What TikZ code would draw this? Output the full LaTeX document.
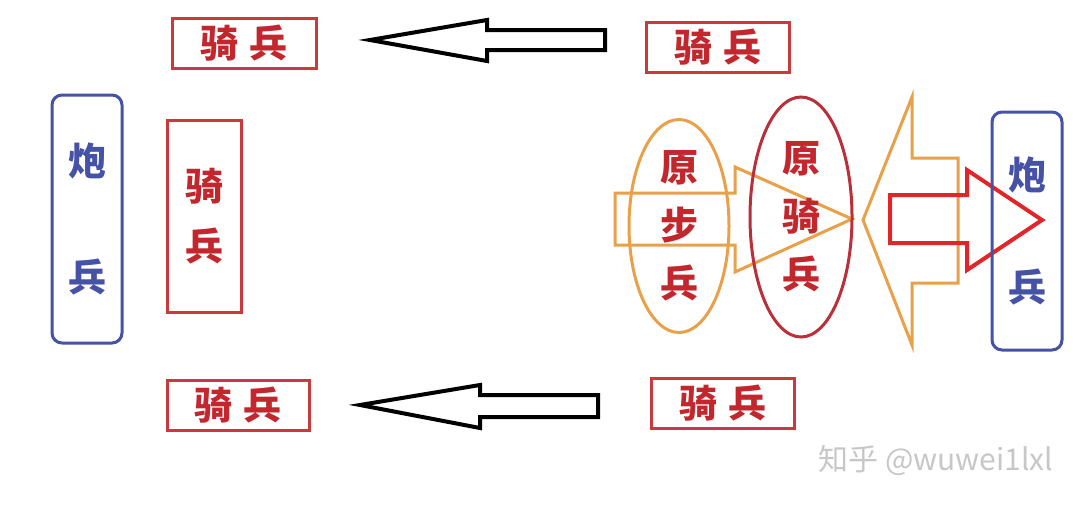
\documentclass[tikz,border=0pt]{standalone}
\usepackage{fontspec}
\newfontfamily\cjk{Noto Sans CJK SC}
\usepackage{xcolor}
\definecolor{BoxRed}{HTML}{C93A3E}
\definecolor{TextRed}{HTML}{C2272D}
\definecolor{ArtBlue}{HTML}{4652A6}
\definecolor{FootOrange}{HTML}{E9A04A}
\definecolor{OvalRed}{HTML}{B9303A}
\definecolor{PushRed}{HTML}{E0262A}
\usetikzlibrary{shapes.geometric}
\tikzset{
  cavbox/.style={
    draw=BoxRed,
    line width=1.5pt,
    text=TextRed,
    align=center,
    font=\cjk\bfseries\fontsize{19}{30}\selectfont,
    inner sep=0pt
  },
  artbox/.style={
    draw=ArtBlue,
    line width=1.5pt,
    rounded corners=5pt,
    text=ArtBlue,
    align=center,
    font=\cjk\bfseries\fontsize{19}{58}\selectfont,
    inner sep=0pt
  },
  oval/.style={
    ellipse,
    line width=1.5pt,
    text=TextRed,
    align=center,
    font=\cjk\bfseries\fontsize{19}{29}\selectfont,
    inner sep=0pt
  },
  movearrow/.style={
    draw=black,
    line width=2pt
  },
  footarrow/.style={
    draw=FootOrange,
    line width=1.5pt
  }
}

\begin{document}
\begin{tikzpicture}[x=0.5pt,y=-0.5pt]
  \useasboundingbox[fill=white] (0,0) rectangle (1080,504);
  % left side
  \node[cavbox, minimum width=72pt, minimum height=25pt] (cavTL) at (244,43) {骑\hspace{6pt}兵};
  \node[artbox, minimum width=35pt, minimum height=124pt] (artL) at (87,219) {炮\\兵};
  \node[cavbox, minimum width=37pt, minimum height=96pt] (cavML) at (204,216) {骑\\兵};
  \node[cavbox, minimum width=71pt, minimum height=25pt] (cavBL) at (238,405) {骑\hspace{6pt}兵};
  % right side
  \node[cavbox, minimum width=71.5pt, minimum height=25pt] (cavTR) at (718,47) {骑\hspace{6pt}兵};
  \node[cavbox, minimum width=71.5pt, minimum height=25pt] (cavBR) at (723,403) {骑\hspace{6pt}兵};
  % flank moves
  \draw[movearrow] (370,40) -- (487,20) -- (487,30) -- (605,30) -- (605,50) -- (487,50) -- (487,61) -- cycle;
  \draw[movearrow] (360,405) -- (480,385) -- (480,395) -- (598,395) -- (598,417) -- (480,417) -- (480,428) -- cycle;
  % centre push
  \node[oval, draw=FootOrange, minimum width=50pt, minimum height=102.5pt] (foot) at (679,226) {原\\步\\兵};
  \draw[footarrow] (615,193) -- (735,193) -- (735,167) -- (852,219) -- (735,272) -- (735,245) -- (615,245) -- cycle;
  \node[oval, draw=OvalRed, minimum width=51pt, minimum height=120pt] (oldcav) at (801,217) {原\\骑\\兵};
  \draw[footarrow] (863,220) -- (912,97) -- (912,158) -- (958,158) -- (958,283) -- (912,283) -- (912,345) -- cycle;
  \draw[draw=PushRed, line width=2pt] (890,195) -- (967,195) -- (967,170) -- (1042,220) -- (967,270) -- (967,243) -- (890,243) -- cycle;
  \node[artbox, minimum width=35pt, minimum height=119pt, font=\cjk\bfseries\fontsize{19}{56}\selectfont] (artR) at (1027,231) {炮\\兵};
  % watermark
  \node[text=black!22, font=\cjk\fontsize{15}{16}\selectfont] (mark) at (936,460) {知乎 @wuwei1lxl};
\end{tikzpicture}
\end{document}
